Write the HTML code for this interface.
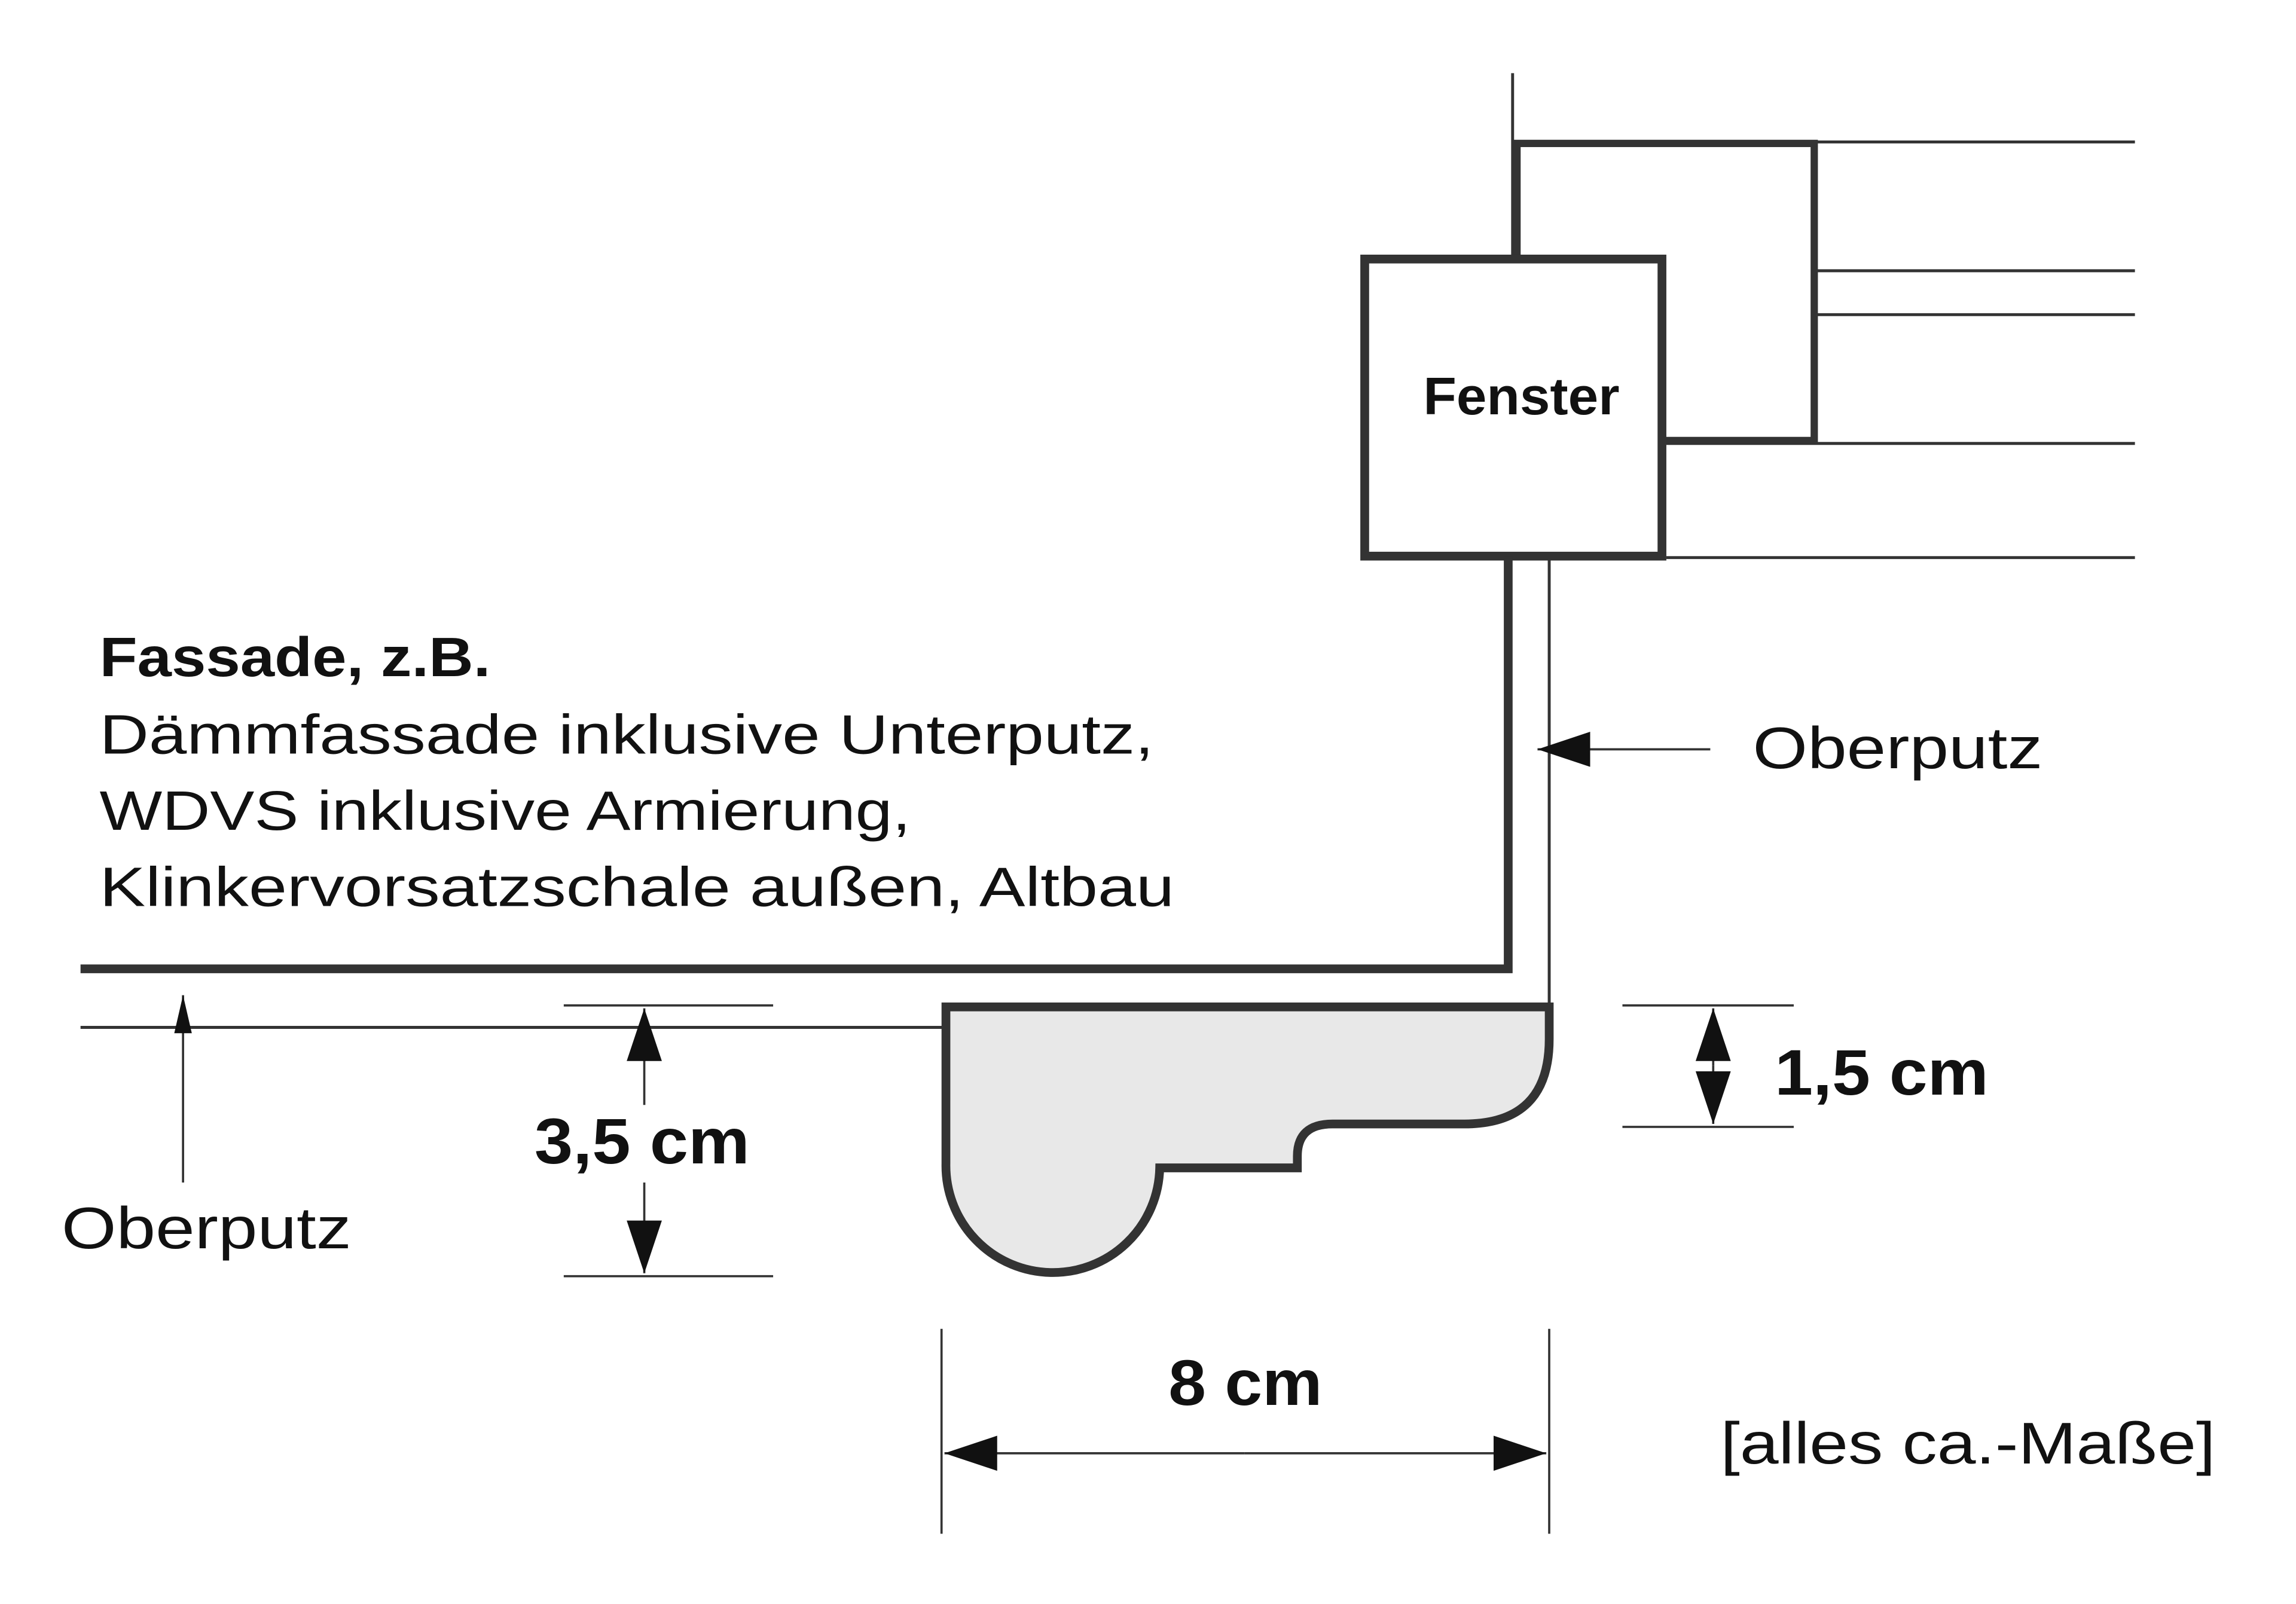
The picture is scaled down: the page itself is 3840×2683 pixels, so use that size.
<!DOCTYPE html>
<html><head><meta charset="utf-8"><style>
html,body{margin:0;padding:0;background:#fff;}
svg{display:block;}
text{font-family:"Liberation Sans",sans-serif;fill:#111;}
</style></head><body>
<svg width="3840" height="2683" viewBox="0 0 1568 1096" preserveAspectRatio="none" xmlns="http://www.w3.org/2000/svg">
<defs>
<marker id="a" viewBox="0 0 10 10" refX="10" refY="5" markerWidth="26" markerHeight="12" markerUnits="userSpaceOnUse" orient="auto" preserveAspectRatio="none"><path d="M0,0 L10,5 L0,10 z" fill="#111"/></marker>
<marker id="c" viewBox="0 0 10 10" refX="10" refY="5" markerWidth="36" markerHeight="24" markerUnits="userSpaceOnUse" orient="auto" preserveAspectRatio="none"><path d="M0,0 L10,5 L0,10 z" fill="#111"/></marker>
</defs>
<g stroke="#333" fill="none">
<line x1="1033" y1="50" x2="1033" y2="176" stroke-width="2"/>
<rect x="1036" y="98" width="203" height="203" stroke-width="5"/>
<g stroke-width="2">
<line x1="1240" y1="97" x2="1458" y2="97"/>
<line x1="1240" y1="185" x2="1458" y2="185"/>
<line x1="1240" y1="215" x2="1458" y2="215"/>
<line x1="1138" y1="303" x2="1458" y2="303"/>
<line x1="1138" y1="381" x2="1458" y2="381"/>
</g>
<rect x="932" y="177" width="203" height="203" stroke-width="6" fill="#fff"/>
<polyline points="1030,380 1030,662 55,662" stroke-width="6"/>
<line x1="1058" y1="382" x2="1058" y2="690" stroke-width="2"/>
<line x1="1168" y1="512" x2="1050" y2="512" stroke-width="1.5" marker-end="url(#c)"/>
<line x1="55" y1="702" x2="646" y2="702" stroke-width="2"/>
<line x1="125" y1="808" x2="125" y2="680" stroke-width="1.5" marker-end="url(#a)"/>
<line x1="385" y1="687" x2="528" y2="687" stroke-width="1.5"/>
<line x1="385" y1="872" x2="528" y2="872" stroke-width="1.5"/>
<line x1="440" y1="755" x2="440" y2="689" stroke-width="1.5" marker-end="url(#c)" />
<line x1="440" y1="808" x2="440" y2="870" stroke-width="1.5" marker-end="url(#c)"/>
<path d="M646,688 L1058,688 L1058,710 Q1058,768 1000,768 L910,768 Q886,768 886,790 L886,798 L792,798 A73,73 0 0 1 646,795 Z" fill="#e8e8e8" stroke-width="6"/>
<line x1="1108" y1="687" x2="1225" y2="687" stroke-width="1.5"/>
<line x1="1108" y1="770" x2="1225" y2="770" stroke-width="1.5"/>
<line x1="1170" y1="728" x2="1170" y2="689" stroke-width="1.5" marker-end="url(#c)"/>
<line x1="1170" y1="728" x2="1170" y2="768" stroke-width="1.5" marker-end="url(#c)"/>
<line x1="643" y1="908" x2="643" y2="1048" stroke-width="1.5"/>
<line x1="1058" y1="908" x2="1058" y2="1048" stroke-width="1.5"/>
<line x1="850" y1="993" x2="645" y2="993" stroke-width="1.5" marker-end="url(#c)"/>
<line x1="850" y1="993" x2="1056" y2="993" stroke-width="1.5" marker-end="url(#c)"/>
</g>
<text x="972" y="283" font-size="36" font-weight="bold" textLength="134" lengthAdjust="spacingAndGlyphs">Fenster</text>
<text x="1197" y="525" font-size="40" textLength="198" lengthAdjust="spacingAndGlyphs">Oberputz</text>
<text x="42" y="853" font-size="40" textLength="198" lengthAdjust="spacingAndGlyphs">Oberputz</text>
<text x="68" y="462" font-size="38" font-weight="bold" textLength="267" lengthAdjust="spacingAndGlyphs">Fassade, z.B.</text>
<text x="68" y="515" font-size="38" textLength="720" lengthAdjust="spacingAndGlyphs">Dämmfassade inklusive Unterputz,</text>
<text x="68" y="567" font-size="38" textLength="554" lengthAdjust="spacingAndGlyphs">WDVS inklusive Armierung,</text>
<text x="68" y="619" font-size="38" textLength="734" lengthAdjust="spacingAndGlyphs">Klinkervorsatzschale außen, Altbau</text>
<text x="365" y="795" font-size="44" font-weight="bold" textLength="147" lengthAdjust="spacingAndGlyphs">3,5 cm</text>
<text x="1212" y="748" font-size="44" font-weight="bold" textLength="146" lengthAdjust="spacingAndGlyphs">1,5 cm</text>
<text x="798" y="960" font-size="44" font-weight="bold" textLength="105" lengthAdjust="spacingAndGlyphs">8 cm</text>
<text x="1175" y="1000" font-size="40" textLength="338" lengthAdjust="spacingAndGlyphs">[alles ca.-Maße]</text>
</svg>
</body></html>
